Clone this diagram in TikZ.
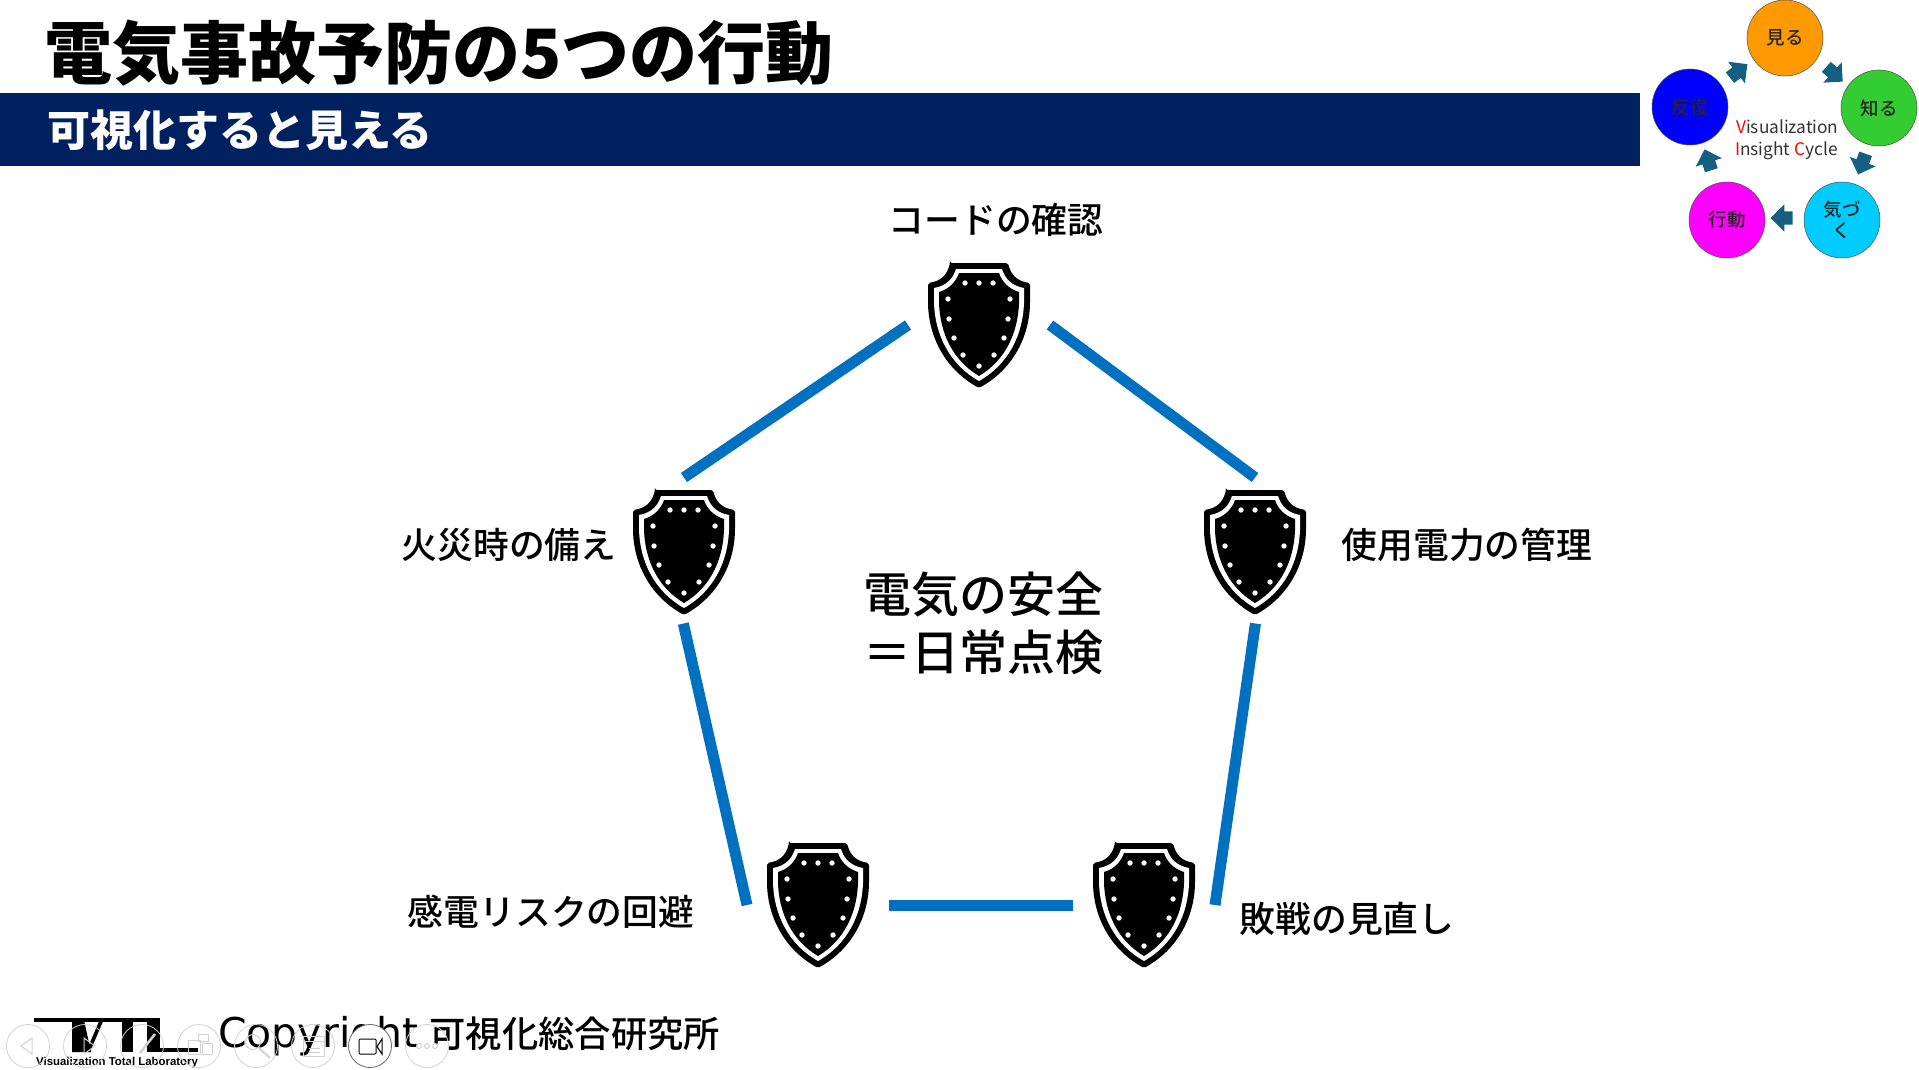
\documentclass[tikz,border=0pt]{standalone}
\usepackage{fontspec}
\usepackage{xcolor}
\setmainfont{Noto Sans CJK JP}
\setsansfont{Liberation Sans}
\newfontfamily\labelfont{Noto Sans CJK JP Medium}
\newfontfamily\latinfont{DejaVu Sans}
\usetikzlibrary{shapes.arrows}
\definecolor{barblue}{HTML}{002060}
\definecolor{linkblue}{HTML}{0070C0}
\definecolor{cyclearrowblue}{HTML}{156082}
\definecolor{toolgray}{HTML}{D2D2D2}
\tikzset{
  shieldicon/.pic={
    \fill[black,rounded corners=2pt] (-29,-62) -- (29,-62) .. controls (32,-50) and (38,-44) .. (51,-42) -- (51,-22)
      .. controls (50,12) and (34,44) .. (0,63) .. controls (-34,44) and (-50,12) .. (-51,-22) -- (-51,-42)
      .. controls (-38,-44) and (-32,-50) .. (-29,-62) -- cycle;
    \fill[white] (-23,-56) -- (23,-56) .. controls (26,-46) and (33,-39) .. (45,-37) -- (45,-22)
      .. controls (44,9) and (30,39) .. (0,56) .. controls (-30,39) and (-44,9) .. (-45,-22) -- (-45,-37)
      .. controls (-33,-39) and (-26,-46) .. (-23,-56) -- cycle;
    \fill[black] (-20,-52) -- (20,-52) .. controls (23,-43) and (30,-36) .. (40,-33) -- (40,-22)
      .. controls (39,7) and (27,35) .. (0,51) .. controls (-27,35) and (-39,7) .. (-40,-22) -- (-40,-33)
      .. controls (-30,-36) and (-23,-43) .. (-20,-52) -- cycle;
    \foreach \dx/\dy in {-14/-42,0/-42,14/-42,-31/-26,31/-26,-30/-6,29/-6,-25/13,25/13,-16/30,15/30,0/41}
      \fill[white] (\dx,\dy) circle (2.7);
  }
}
\begin{document}
\begin{tikzpicture}[x=1pt,y=-1pt,
   shield spot/.style={minimum width=102pt,minimum height=125pt,inner sep=0pt,outer xsep=20pt,outer ysep=12pt},
   link/.style={draw=linkblue,line width=11pt},
   point label/.style={font=\labelfont\fontsize{35.8}{36}\selectfont,inner sep=0pt},
   cycle step/.style={circle,draw=black!70,line width=0.5pt,minimum size=76pt,inner sep=0pt,align=center,
     font=\labelfont\fontsize{18.5}{21}\selectfont,text=black!85},
   cycle arrow/.style={single arrow,fill=cyclearrowblue,inner sep=0pt,minimum height=22pt,text height=13pt,text depth=0pt,
     single arrow head extend=7pt,single arrow head indent=0pt},
   cycle text/.style={font=\fontsize{17.3}{20}\selectfont,inner sep=0pt,anchor=west,text=black!80},
   tool/.style={circle,draw=toolgray,line width=0.8pt,minimum size=43pt,inner sep=0pt},
   glyph/.style={draw=toolgray,line width=1pt}]

  \useasboundingbox (0,0) rectangle (1919,1070);
  \fill[white] (0,0) rectangle (1919,1070);

  \node[inner sep=0pt,anchor=west,font=\fontsize{68}{68}\selectfont\bfseries] (title) at (44,53) {電気事故予防の5つの行動};
  \node[fill=barblue,minimum width=1640pt,minimum height=73pt,inner sep=0pt,anchor=north west] (bar) at (0,93) {};
  \node[inner sep=0pt,anchor=west,text=white,font=\fontsize{43}{43}\selectfont\bfseries] (subtitle) at (47,130) {可視化すると見える};

  \node[shield spot] (check) at (979,325) {};
  \node[shield spot] (fire) at (684,552) {};
  \node[shield spot] (power) at (1255,552) {};
  \node[shield spot] (shock) at (818,905) {};
  \node[shield spot] (review) at (1144,905) {};
  \foreach \name in {check,fire,power,shock,review} \pic at (\name) {shieldicon};

  \draw[link] (check.west) -- (fire.north);
  \draw[link] (check.east) -- (power.north);
  \draw[link,shorten <=-3pt] (fire.south) -- (shock.west);
  \draw[link,shorten <=-3pt] (power.south) -- (review.east);
  \draw[link] (shock.east) -- (review.west);

  \node[point label] (checklabel) at (996,220) {コードの確認};
  \node[point label] (firelabel) at (509,545) {火災時の備え};
  \node[point label] (powerlabel) at (1467,545) {使用電力の管理};
  \node[point label] (shocklabel) at (551,912) {感電リスクの回避};
  \node[point label] (reviewlabel) at (1347,919) {敗戦の見直し};
  \node[inner sep=0pt,align=center,font=\labelfont\fontsize{48}{58}\selectfont] (center) at (983,623) {電気の安全\\＝日常点検};

  \node[cycle step,fill={rgb,255:red,255;green,153;blue,0}] (see) at (1785,38) {見る};
  \node[cycle step,fill={rgb,255:red,51;green,204;blue,51}] (know) at (1879,108) {知る};
  \node[cycle step,fill={rgb,255:red,0;green,204;blue,255}] (notice) at (1842,220) {気づ\\く};
  \node[cycle step,fill={rgb,255:red,255;green,0;blue,255}] (act) at (1727,220) {行動};
  \node[cycle step,fill={rgb,255:red,0;green,0;blue,255}] (repeat) at (1690,107) {反復};

  \node[cycle arrow,rotate=-42] (seeknow) at (1832,72) {};
  \node[cycle arrow,rotate=-110] (knownotice) at (1863,161) {};
  \node[cycle arrow,rotate=180] (noticeact) at (1785,218) {};
  \node[cycle arrow,rotate=108] (actrepeat) at (1709,163) {};
  \node[cycle arrow,rotate=38] (repeatsee) at (1736,73) {};

  \node[cycle text] (cycletop) at (1736,127) {\textcolor{red}{V}isualization};
  \node[cycle text] (cyclebottom) at (1735,151) {\textcolor{red}{I}nsight \textcolor{red}{C}ycle};

  \fill (34,1018) rectangle (160,1022);
  \fill (72,1020) -- (84,1020) -- (91,1052) -- (72,1052) -- cycle;
  \fill (100,1019) -- (104,1019) -- (90,1052) -- (86,1052) -- cycle;
  \fill (122,1020) rectangle (133,1052);
  \fill (147,1020) rectangle (160,1052);
  \fill (160,1048) rectangle (198,1052);
  \node[inner sep=0pt,anchor=west,font=\sffamily\bfseries\fontsize{11.4}{12}\selectfont] (logotext) at (36,1062.5) {Visualization Total Laboratory};
  \node[inner sep=0pt,anchor=west,font=\labelfont\fontsize{36.3}{36}\selectfont] (copyright) at (218,1036) {{\latinfont\fontsize{41}{41}\selectfont Copyright}\hspace{11pt}可視化総合研究所};

  \foreach \name/\xpos in {back/28,next/85,pen/142,slides/199,zoom/256,notes/313,more/427}
    \node[tool] (\name) at (\xpos,1046) {};
  \node[tool,fill=white,draw=black!60] (video) at (370,1046) {};

  \draw[glyph] (32,1038) -- (21,1046) -- (32,1054) -- cycle;
  \draw[glyph] (84,1038) -- (95,1046) -- (84,1054) -- cycle;
  \draw[glyph,line width=2.5pt] (155,1034) -- (140,1053);
  \draw[glyph] (188,1040) rectangle (200,1054);
  \draw[glyph] (198,1034) rectangle (208,1041);
  \draw[glyph] (202,1043) rectangle (212,1054);
  \draw[glyph] (253,1042) circle (7.5);
  \draw[glyph,line width=2pt] (259,1048) -- (270,1058);
  \draw[glyph] (303,1036) rectangle (324,1056);
  \draw[glyph] (303,1041) -- (324,1041);
  \draw[glyph] (309,1048) -- (320,1048) (309,1052) -- (320,1052);
  \draw[black,line width=1pt,rounded corners=1pt] (359,1039) rectangle (376,1054);
  \draw[black,line width=1pt] (382,1039) -- (377,1046.5) -- (382,1054) -- cycle;
  \foreach \xpos in {419,427,435} \draw[glyph] (\xpos,1046) circle (2.5);
\end{tikzpicture}
\end{document}
